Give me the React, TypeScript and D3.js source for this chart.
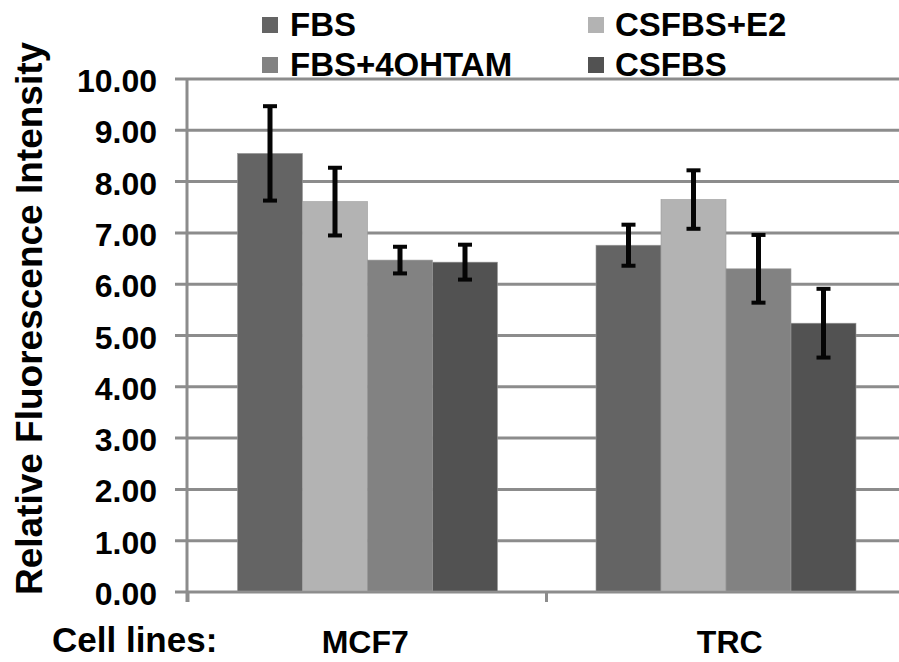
import React from "react";
import * as d3 from "d3";

const categories = ["MCF7", "TRC"];
const seriesNames = ["FBS", "CSFBS+E2", "FBS+4OHTAM", "CSFBS"];
const seriesColors = ["#646464", "#b3b3b3", "#828282", "#525252"];
const fbsValues = [8.55, 6.76];
const csfbsE2Values = [7.61, 7.65];
const fbs4ohtamValues = [6.47, 6.3];
const csfbsValues = [6.43, 5.24];
const fbsErrors = [0.92, 0.4];
const csfbsE2Errors = [0.66, 0.57];
const fbs4ohtamErrors = [0.26, 0.66];
const csfbsErrors = [0.34, 0.67];
const yTicks = [0, 1, 2, 3, 4, 5, 6, 7, 8, 9, 10];

const allValues = [fbsValues, csfbsE2Values, fbs4ohtamValues, csfbsValues];
const allErrors = [fbsErrors, csfbsE2Errors, fbs4ohtamErrors, csfbsErrors];

const FONT = "'Liberation Sans', Arial, Helvetica, sans-serif";

export default function App() {
  const W = 899;
  const H = 662;
  const x = d3.scaleBand<string>().domain(categories).range([188, 905]).paddingInner(0).paddingOuter(0);
  const bw = x.bandwidth();
  const inner = d3.scaleBand<string>().domain(seriesNames).range([49.5, bw - 49]).padding(0);
  const y = d3.scaleLinear().domain([0, 10]).range([592, 79]);
  const gridColor = "#8c8c8c";
  const capW = 14;

  const legendItems = [
    { name: seriesNames[0], color: seriesColors[0], sx: 262, tx: 290, base: 36 },
    { name: seriesNames[1], color: seriesColors[1], sx: 588, tx: 615, base: 36 },
    { name: seriesNames[2], color: seriesColors[2], sx: 262, tx: 290, base: 76 },
    { name: seriesNames[3], color: seriesColors[3], sx: 588, tx: 615, base: 76 },
  ];

  const xTickPositions = [...categories.map((c) => x(c) as number), (x(categories[categories.length - 1]) as number) + bw];

  return (
    <div style={{ position: "absolute", left: 0, top: 0 }}>
      <svg width={W} height={H} style={{ display: "block", background: "#fff" }} fontFamily={FONT}>
        {yTicks.map((t) => (
          <line key={"g" + t} x1={175} x2={W + 10} y1={y(t)} y2={y(t)} stroke={gridColor} strokeWidth={3} />
        ))}
        {yTicks.map((t) => (
          <text key={"t" + t} x={157} y={y(t) + 13} textAnchor="end" fontSize={32} fontWeight="bold" fill="#000">
            {t.toFixed(2)}
          </text>
        ))}
        <line x1={187} x2={187} y1={y(10) - 1} y2={602} stroke={gridColor} strokeWidth={3} />
        {xTickPositions.map((p, i) => (
          <line key={"xt" + i} x1={p} x2={p} y1={y(0)} y2={602} stroke={gridColor} strokeWidth={3} />
        ))}
        {categories.map((c, ci) =>
          seriesNames.map((s, si) => {
            const v = allValues[si][ci];
            const bx = (x(c) as number) + (inner(s) as number);
            return (
              <rect
                key={c + s}
                x={bx}
                y={y(v)}
                width={inner.bandwidth()}
                height={y(0) - y(v) - 1}
                fill={seriesColors[si]}
                stroke="#9a9a9a"
                strokeWidth={0.6}
              />
            );
          })
        )}
        {categories.map((c, ci) =>
          seriesNames.map((s, si) => {
            const v = allValues[si][ci];
            const e = allErrors[si][ci];
            const cx = (x(c) as number) + (inner(s) as number) + inner.bandwidth() / 2;
            return (
              <g key={"e" + c + s} stroke="#050505" strokeWidth={5}>
                <line x1={cx} x2={cx} y1={y(v + e)} y2={y(v - e)} />
                <line x1={cx - capW / 2} x2={cx + capW / 2} y1={y(v + e)} y2={y(v + e)} strokeWidth={4} />
                <line x1={cx - capW / 2} x2={cx + capW / 2} y1={y(v - e)} y2={y(v - e)} strokeWidth={4} />
              </g>
            );
          })
        )}
        <text
          transform={`translate(42, ${(597 + 40) / 2}) rotate(-90)`}
          textAnchor="middle"
          fontSize={37}
          fontWeight="bold"
          fill="#000"
        >
          Relative Fluorescence Intensity
        </text>
        <text x={52} y={652} fontSize={35} fontWeight="bold" fill="#000">
          Cell lines:
        </text>
        {categories.map((c) => (
          <text key={"xl" + c} x={(x(c) as number) + bw / 2 + (c === "TRC" ? 4 : -2)} y={653} textAnchor="middle" fontSize={32} fontWeight="bold" fill="#000">
            {c}
          </text>
        ))}
        {legendItems.map((it) => (
          <g key={"lg" + it.name}>
            <rect x={it.sx} y={it.base - 19} width={16} height={16} fill={it.color} />
            <text x={it.tx} y={it.base} fontSize={33} fontWeight="bold" fill="#000">
              {it.name}
            </text>
          </g>
        ))}
      </svg>
    </div>
  );
}
